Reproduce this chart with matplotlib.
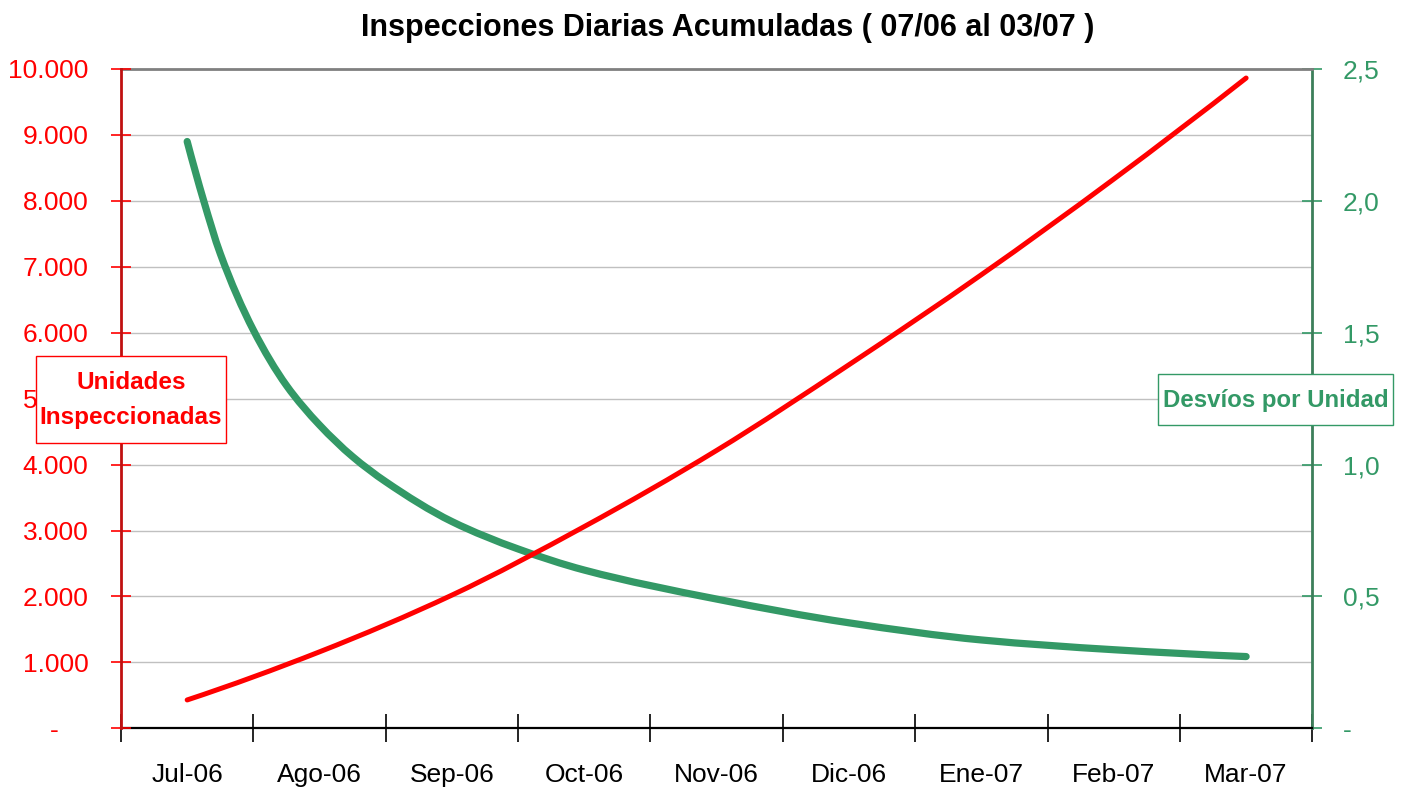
import matplotlib
matplotlib.use("Agg")
import matplotlib.pyplot as plt
import numpy as np
from matplotlib import font_manager
from matplotlib.path import Path
from matplotlib.patches import PathPatch, Rectangle
from matplotlib.ticker import FixedLocator, MultipleLocator, FuncFormatter

# ---------------- data ----------------
categories = ['Jul-06', 'Ago-06', 'Sep-06', 'Oct-06', 'Nov-06', 'Dic-06', 'Ene-07', 'Feb-07', 'Mar-07']
units_pos = [0, 1, 2, 3, 4, 5, 6, 7, 8]
units = [430, 1160, 2020, 3060, 4215, 5515, 6880, 8330, 9863]
desvios_pos = [0, 0.125, 0.25, 0.5, 0.75, 1.0, 1.25, 1.5, 2, 2.5, 3, 4, 5, 6, 7, 8]
desvios = [2.225, 2.00, 1.80, 1.51, 1.30, 1.15, 1.03, 0.935, 0.784, 0.68, 0.60, 0.49, 0.40, 0.335, 0.298, 0.272]
left_ticks = [0, 1000, 2000, 3000, 4000, 5000, 6000, 7000, 8000, 9000, 10000]
right_ticks = [0, 0.5, 1.0, 1.5, 2.0, 2.5]
title = 'Inspecciones Diarias Acumuladas ( 07/06 al 03/07 )'

RED = '#FF0000'
GREEN = '#339966'

avail = {f.name for f in font_manager.fontManager.ttflist}
if 'Liberation Sans Narrow' in avail:
    FAM = ['Liberation Sans Narrow', 'DejaVu Sans']
    SCALE = 1.1
else:
    FAM = ['Liberation Sans', 'DejaVu Sans']
    SCALE = 1.0
plt.rcParams['font.family'] = FAM
FS = 19 * SCALE

W, H = 1407, 793


def smooth_path(xs, ys):
    """Smoothed-line rendering (like a spreadsheet 'smoothed line'):
    cubic Bezier segments through the data points (PCHIP tangents)."""
    x = np.asarray(xs, float)
    y = np.asarray(ys, float)
    h = np.diff(x)
    d = np.diff(y) / h
    n = len(x)
    m = np.zeros(n)
    for i in range(1, n - 1):
        if d[i - 1] * d[i] <= 0:
            m[i] = 0
        else:
            w1 = 2 * h[i] + h[i - 1]
            w2 = h[i] + 2 * h[i - 1]
            m[i] = (w1 + w2) / (w1 / d[i - 1] + w2 / d[i])
    m[0] = ((2 * h[0] + h[1]) * d[0] - h[0] * d[1]) / (h[0] + h[1])
    if m[0] * d[0] <= 0:
        m[0] = 0
    m[-1] = ((2 * h[-1] + h[-2]) * d[-1] - h[-1] * d[-2]) / (h[-1] + h[-2])
    if m[-1] * d[-1] <= 0:
        m[-1] = 0
    verts = [(x[0], y[0])]
    codes = [Path.MOVETO]
    for i in range(n - 1):
        verts += [(x[i] + h[i] / 3, y[i] + m[i] * h[i] / 3),
                  (x[i + 1] - h[i] / 3, y[i + 1] - m[i + 1] * h[i] / 3),
                  (x[i + 1], y[i + 1])]
        codes += [Path.CURVE4] * 3
    return Path(verts, codes)


fig = plt.figure(figsize=(W / 100, H / 100), dpi=100)
ax = fig.add_axes([121 / W, 1 - 728.3 / H, (1312.3 - 121) / W, (728.3 - 69) / H])
ax2 = ax.twinx()

# green on base axes (right scale), red on twin (left scale) so red is on top
ax.yaxis.tick_right()
ax2.yaxis.tick_left()

ax.add_patch(PathPatch(smooth_path(desvios_pos, desvios), fill=False, ec=GREEN, lw=5.2,
                       capstyle='round', joinstyle='round', zorder=3))
ax2.add_patch(PathPatch(smooth_path(units_pos, units), fill=False, ec=RED, lw=3.6,
                        capstyle='round', joinstyle='round', zorder=3))

ax.set_xlim(-0.5, 8.5)
ax.set_ylim(0, 2.5)
ax2.set_ylim(0, 10000)

# grid from base axes (0.25 steps == 1000 steps on left)
ax.yaxis.set_minor_locator(MultipleLocator(0.25))
ax.yaxis.set_major_locator(FixedLocator(right_ticks))
ax.grid(axis='y', which='both', color='#C0C0C0', lw=1.0, zorder=0)
ax.set_axisbelow(True)


def fmt_right(v, p):
    if abs(v) < 1e-9:
        return '-'
    return f'{v:.1f}'.replace('.', ',')


def fmt_left(v, p):
    if abs(v) < 1e-9:
        return '-    '
    return f'{v:,.0f}'.replace(',', '.')


ax.yaxis.set_major_formatter(FuncFormatter(fmt_right))
ax2.yaxis.set_major_locator(FixedLocator(left_ticks))
ax2.yaxis.set_major_formatter(FuncFormatter(fmt_left))

ax.tick_params(axis='y', which='major', right=True, left=False, direction='inout', length=15,
               width=1.2, color=GREEN, labelcolor=GREEN, labelsize=FS, pad=14.5)
ax.tick_params(axis='y', which='minor', length=0)
ax2.tick_params(axis='y', left=True, right=False, direction='inout', length=15,
                width=1.2, color=RED, labelcolor=RED, labelsize=FS, pad=16)

# x axis: ticks between categories, labels at centers
ax.xaxis.set_major_locator(FixedLocator([i - 0.5 for i in range(len(categories) + 1)]))
ax.xaxis.set_major_formatter(FuncFormatter(lambda v, p: ''))
ax.xaxis.set_minor_locator(FixedLocator(list(range(len(categories)))))
ax.xaxis.set_minor_formatter(FuncFormatter(lambda v, p: categories[int(round(v))]))
ax.tick_params(axis='x', which='major', direction='inout', length=20, width=1.2, color='black')
ax.tick_params(axis='x', which='minor', length=0, labelsize=FS, labelcolor='black', pad=25)
ax2.tick_params(axis='x', which='both', length=0, labelbottom=False)

for a in (ax, ax2):
    for s in a.spines.values():
        s.set_visible(False)
ax.spines['bottom'].set_visible(True)
ax.spines['bottom'].set_color('black')
ax.spines['bottom'].set_linewidth(1.6)
ax.spines['top'].set_visible(True)
ax.spines['top'].set_color('#808080')
ax.spines['top'].set_linewidth(2)
ax.spines['right'].set_visible(True)
ax.spines['right'].set_color('#3C7F5A')
ax.spines['right'].set_linewidth(2)
ax2.spines['left'].set_visible(True)
ax2.spines['left'].set_color('#C01010')
ax2.spines['left'].set_linewidth(2)

fig.text(728 / W, 1 - 28 / H, title, ha='center', va='center', fontsize=22 * SCALE,
         fontweight='bold', color='black')


def label_box(x0, y0, x1, y1, color):
    fig.patches.append(Rectangle((x0 / W, 1 - y1 / H), (x1 - x0) / W, (y1 - y0) / H,
                                 transform=fig.transFigure, fc='white', ec=color, lw=1.0,
                                 zorder=8, figure=fig))


label_box(36, 356, 226, 443, RED)
fig.text(131 / W, 1 - 400 / H, 'Unidades\nInspeccionadas', ha='center', va='center',
         fontsize=17.5 * SCALE, fontweight='bold', color=RED, linespacing=1.65, zorder=10)
label_box(1158, 374, 1393, 425, GREEN)
fig.text(1275.5 / W, 1 - 400 / H, 'Desvíos por Unidad', ha='center', va='center',
         fontsize=17.3 * SCALE, fontweight='bold', color=GREEN, zorder=10)

fig.savefig('out.png', dpi=100)
